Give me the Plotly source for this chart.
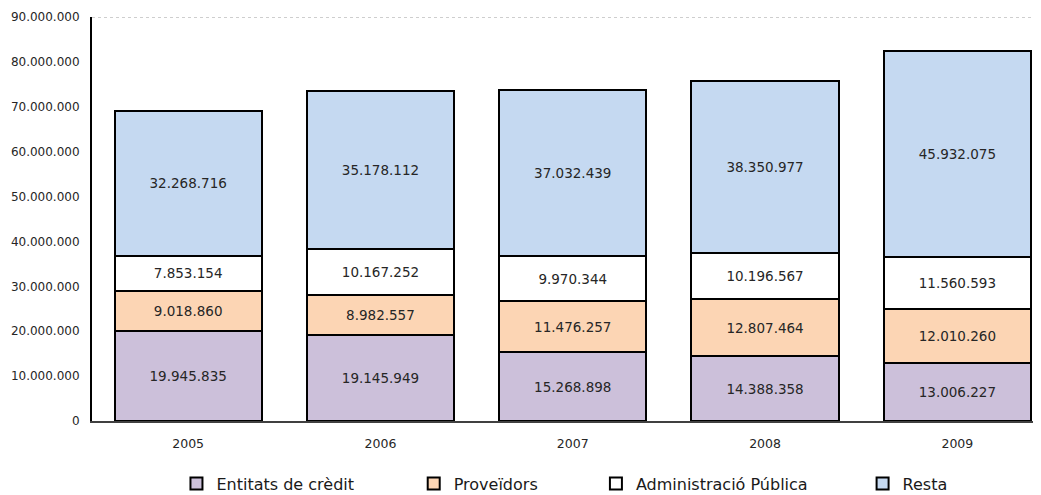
import plotly.graph_objects as go

years = ["2005", "2006", "2007", "2008", "2009"]
entitats = [19945835, 19145949, 15268898, 14388358, 13006227]
proveidors = [9018860, 8982557, 11476257, 12807464, 12010260]
administracio = [7853154, 10167252, 9970344, 10196567, 11560593]
resta = [32268716, 35178112, 37032439, 38350977, 45932075]

series_names = ["Entitats de crèdit", "Proveïdors", "Administració Pública", "Resta"]
series_values = [entitats, proveidors, administracio, resta]
series_colors = ["#CCC0DA", "#FCD5B4", "#FFFFFF", "#C5D9F1"]
legend_ids = ["legend", "legend2", "legend3", "legend4"]
legend_x = [0.089, 0.339, 0.531, 0.812]

y_max = 90000000
y_step = 10000000

fig = go.Figure()
for name, vals, col, lid in zip(series_names, series_values, series_colors, legend_ids):
    fig.add_trace(go.Bar(
        x=years, y=vals, name=name, legend=lid,
        marker=dict(color=col, line=dict(color="#000000", width=2)),
        width=0.765,
        texttemplate="%{y:,d}", textposition="inside", insidetextanchor="middle",
        textangle=0, constraintext="none",
        textfont=dict(family="DejaVu Sans", size=13.5, color="#262626"),
    ))

legend_common = dict(orientation="h", yanchor="middle", xanchor="left", y=-0.155,
                     font=dict(family="DejaVu Sans", size=16, color="#1a1a1a"),
                     bgcolor="rgba(0,0,0,0)", borderwidth=0, itemwidth=30)
layout_legends = {}
for lid, lx in zip(legend_ids, legend_x):
    layout_legends[lid] = dict(legend_common, x=lx)

# the page body has an 8px default margin, so the figure is sized to fit the window
fig.update_layout(
    barmode="stack",
    width=1033, height=487,
    margin=dict(l=84, r=0, t=9, b=74, autoexpand=False),
    paper_bgcolor="white", plot_bgcolor="white",
    separators=",.",
    showlegend=True,
    font=dict(family="DejaVu Sans", size=12, color="#262626"),
    xaxis=dict(type="category", range=[-0.5, 4.435], showgrid=False,
               showline=True, linecolor="#404040", linewidth=1.5,
               ticks="", ticklabelstandoff=10,
               tickfont=dict(family="DejaVu Sans", size=12.5, color="#262626")),
    yaxis=dict(range=[0, y_max], tick0=0, dtick=y_step, tickformat=",d",
               showgrid=False, zeroline=False,
               showline=True, linecolor="#000000", linewidth=2,
               ticks="", ticklabelstandoff=8,
               tickfont=dict(family="DejaVu Sans", size=12, color="#262626")),
    shapes=[dict(type="line", xref="paper", yref="y", x0=0, x1=1, y0=y_max, y1=y_max,
                 line=dict(color="#BFBFBF", width=1.5, dash="dot"), layer="below")],
    **layout_legends,
)

fig.write_html("out.html")
